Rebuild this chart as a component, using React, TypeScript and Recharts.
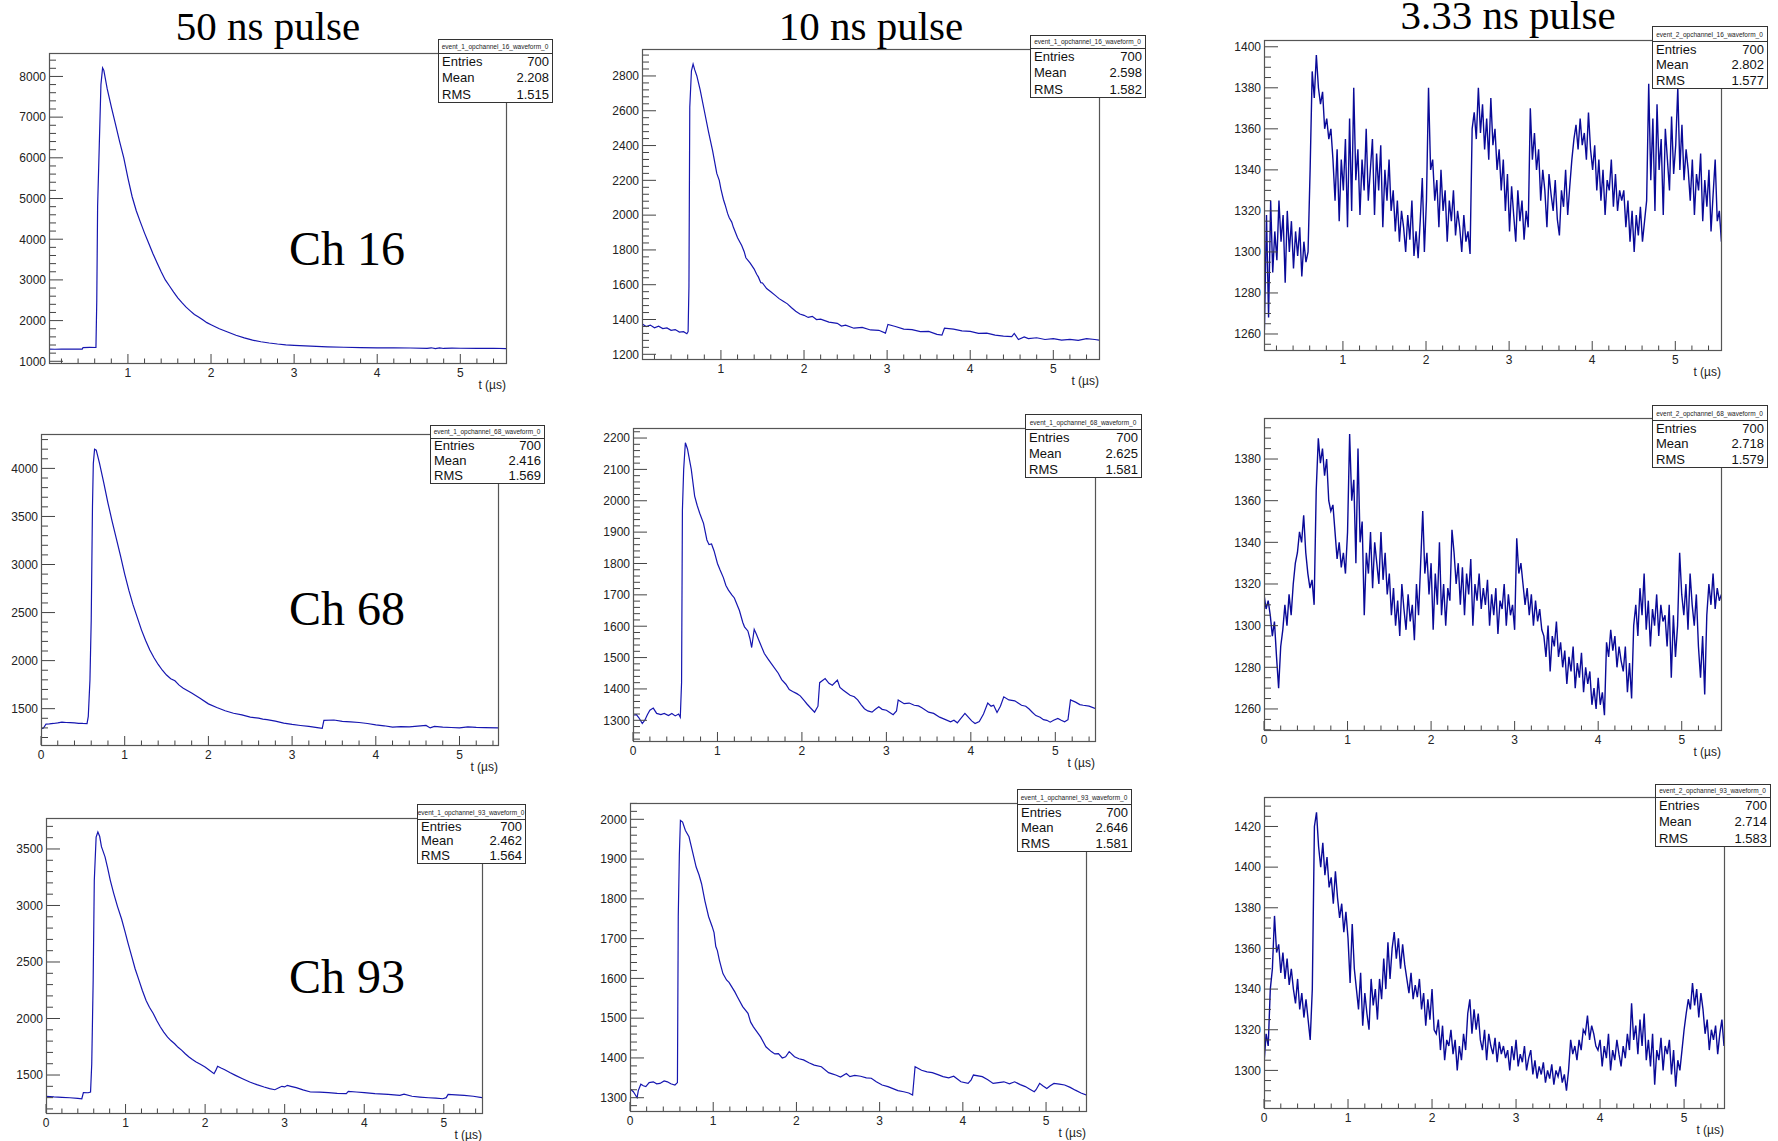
import React from 'react';
import { LineChart, Line, XAxis, YAxis } from 'recharts';

const BLUE = '#1616b0';
const NAVY = '#0a0a98';
const AXIS = '#444';
const SANS = '"Liberation Sans", Arial, Helvetica, sans-serif';
const SERIF = '"Liberation Serif", "Times New Roman", serif';

// width of one histogram bin used for the dense 3.33 ns traces (us)
const FAST_BIN = 0.025;

const columnTitles = ['50 ns pulse', '10 ns pulse', '3.33 ns pulse'];
const channelLabels = ['Ch 16', 'Ch 68', 'Ch 93'];

const ch16Slow = [
  [0.05, 1300], [0.12, 1296], [0.2, 1302], [0.28, 1297], [0.36, 1301], [0.45, 1299], [0.46, 1338], [0.54, 1341],
  [0.615, 1339], [0.625, 2500], [0.635, 4800], [0.655, 6300], [0.675, 7800], [0.695, 8210], [0.71, 8150], [0.75, 7700],
  [0.8, 7250], [0.85, 6830], [0.9, 6400], [0.95, 6000], [1.0, 5500], [1.05, 5050], [1.1, 4700], [1.15, 4420],
  [1.2, 4150], [1.25, 3900], [1.3, 3650], [1.35, 3420], [1.4, 3200], [1.45, 3000], [1.5, 2850], [1.55, 2700],
  [1.6, 2560], [1.65, 2440], [1.7, 2330], [1.75, 2240], [1.8, 2150], [1.85, 2090], [1.9, 2020], [1.95, 1950],
  [2.0, 1900], [2.1, 1800], [2.2, 1720], [2.3, 1640], [2.4, 1575], [2.5, 1520], [2.6, 1480], [2.7, 1450],
  [2.8, 1425], [2.9, 1405], [3.0, 1392], [3.2, 1372], [3.4, 1356], [3.6, 1345], [3.8, 1338], [4.0, 1332],
  [4.2, 1330], [4.4, 1326], [4.6, 1318], [4.65, 1332], [4.7, 1312], [4.75, 1330], [4.8, 1315], [4.9, 1325],
  [5.0, 1320], [5.2, 1316], [5.4, 1320], [5.55, 1312],
];

const ch16Mid = [
  [0.05, 1375], [0.1, 1360], [0.15, 1368], [0.2, 1352], [0.25, 1362], [0.3, 1348], [0.35, 1352], [0.4, 1338],
  [0.45, 1342], [0.5, 1328], [0.55, 1330], [0.59, 1318], [0.605, 1330], [0.615, 1590], [0.625, 2620], [0.645, 2830],
  [0.665, 2868], [0.685, 2835], [0.71, 2800], [0.75, 2720], [0.8, 2600], [0.85, 2480], [0.9, 2370], [0.95, 2240],
  [0.98, 2200], [1.0, 2150], [1.03, 2090], [1.05, 2060], [1.08, 2010], [1.1, 1985], [1.13, 1960], [1.15, 1930],
  [1.2, 1870], [1.25, 1825], [1.28, 1790], [1.3, 1755], [1.35, 1725], [1.4, 1690], [1.43, 1660], [1.45, 1645],
  [1.48, 1612], [1.5, 1610], [1.55, 1578], [1.6, 1560], [1.65, 1540], [1.7, 1520], [1.75, 1505], [1.8, 1490],
  [1.85, 1468], [1.9, 1448], [1.95, 1432], [2.0, 1424], [2.05, 1412], [2.1, 1418], [2.15, 1400], [2.2, 1402],
  [2.3, 1385], [2.4, 1378], [2.45, 1362], [2.5, 1368], [2.6, 1350], [2.7, 1355], [2.8, 1340], [2.9, 1338],
  [2.98, 1322], [3.01, 1372], [3.1, 1360], [3.2, 1345], [3.3, 1342], [3.4, 1330], [3.5, 1332], [3.6, 1315],
  [3.66, 1310], [3.69, 1350], [3.8, 1345], [3.9, 1335], [4.0, 1332], [4.1, 1320], [4.2, 1322], [4.3, 1310],
  [4.4, 1305], [4.5, 1302], [4.53, 1320], [4.58, 1285], [4.65, 1300], [4.7, 1290], [4.8, 1295], [4.9, 1285],
  [5.0, 1290], [5.1, 1282], [5.2, 1286], [5.3, 1280], [5.4, 1290], [5.5, 1285], [5.55, 1282],
];

const ch68Slow = [
  [0, 1290], [0.03, 1298], [0.06, 1340], [0.1, 1342], [0.15, 1346], [0.2, 1352], [0.25, 1360], [0.3, 1356],
  [0.35, 1354], [0.4, 1352], [0.45, 1348], [0.5, 1346], [0.55, 1345], [0.565, 1420], [0.585, 1800], [0.6, 2420],
  [0.615, 3600], [0.625, 4050], [0.64, 4200], [0.66, 4190], [0.7, 4050], [0.75, 3850], [0.8, 3640], [0.85, 3450],
  [0.9, 3270], [0.95, 3090], [1.0, 2900], [1.05, 2730], [1.1, 2580], [1.15, 2450], [1.2, 2320], [1.25, 2210],
  [1.3, 2110], [1.35, 2030], [1.4, 1960], [1.45, 1900], [1.5, 1850], [1.55, 1812], [1.6, 1790], [1.65, 1745],
  [1.7, 1712], [1.8, 1662], [1.9, 1608], [2.0, 1550], [2.1, 1512], [2.2, 1478], [2.3, 1452], [2.4, 1436],
  [2.5, 1412], [2.6, 1402], [2.65, 1392], [2.7, 1386], [2.8, 1370], [2.9, 1350], [3.0, 1336], [3.1, 1325],
  [3.2, 1315], [3.3, 1302], [3.36, 1295], [3.38, 1378], [3.5, 1382], [3.6, 1368], [3.7, 1362], [3.8, 1356],
  [3.9, 1346], [4.0, 1332], [4.1, 1322], [4.2, 1308], [4.3, 1314], [4.4, 1310], [4.5, 1318], [4.6, 1326],
  [4.65, 1300], [4.7, 1315], [4.8, 1308], [4.9, 1304], [5.0, 1300], [5.1, 1310], [5.2, 1305], [5.3, 1302],
  [5.46, 1300],
];

const ch68Mid = [
  [0, 1316], [0.04, 1318], [0.07, 1308], [0.11, 1290], [0.14, 1300], [0.17, 1318], [0.2, 1332], [0.24, 1339],
  [0.28, 1322], [0.33, 1318], [0.37, 1322], [0.42, 1315], [0.46, 1322], [0.5, 1314], [0.54, 1320], [0.56, 1310],
  [0.575, 1420], [0.585, 1970], [0.6, 2100], [0.62, 2185], [0.645, 2165], [0.69, 2100], [0.73, 2015], [0.76, 1985],
  [0.79, 1960], [0.835, 1928], [0.875, 1875], [0.9, 1860], [0.93, 1862], [0.96, 1840], [1.0, 1800], [1.03, 1780],
  [1.07, 1755], [1.1, 1730], [1.13, 1715], [1.17, 1700], [1.2, 1690], [1.26, 1650], [1.3, 1612], [1.32, 1598],
  [1.36, 1585], [1.385, 1560], [1.405, 1532], [1.435, 1590], [1.46, 1575], [1.49, 1555], [1.555, 1513], [1.6, 1495],
  [1.64, 1480], [1.72, 1450], [1.76, 1430], [1.81, 1415], [1.85, 1398], [1.89, 1392], [1.94, 1385], [1.98, 1378],
  [2.03, 1362], [2.06, 1352], [2.1, 1340], [2.15, 1326], [2.19, 1345], [2.21, 1420], [2.275, 1433], [2.32, 1418],
  [2.36, 1412], [2.42, 1428], [2.45, 1405], [2.49, 1396], [2.53, 1388], [2.57, 1380], [2.62, 1375], [2.66, 1365],
  [2.7, 1350], [2.74, 1337], [2.78, 1330], [2.83, 1326], [2.87, 1335], [2.91, 1343], [2.95, 1335], [3.0, 1332],
  [3.04, 1325], [3.08, 1318], [3.12, 1330], [3.14, 1365], [3.21, 1353], [3.27, 1355], [3.33, 1348], [3.38, 1346],
  [3.42, 1340], [3.5, 1326], [3.56, 1322], [3.63, 1310], [3.7, 1302], [3.76, 1295], [3.8, 1300], [3.84, 1292],
  [3.88, 1305], [3.93, 1322], [3.97, 1310], [4.01, 1298], [4.05, 1290], [4.1, 1296], [4.15, 1320], [4.2, 1355],
  [4.24, 1345], [4.27, 1348], [4.31, 1325], [4.35, 1345], [4.39, 1375], [4.45, 1365], [4.52, 1362], [4.56, 1355],
  [4.6, 1348], [4.65, 1345], [4.69, 1336], [4.73, 1325], [4.77, 1315], [4.82, 1310], [4.86, 1302], [4.9, 1300],
  [4.94, 1294], [4.98, 1300], [5.03, 1306], [5.07, 1300], [5.11, 1295], [5.15, 1302], [5.18, 1365], [5.24, 1358],
  [5.29, 1350], [5.33, 1348], [5.4, 1345], [5.47, 1338],
];

const ch93Slow = [
  [0, 1311], [0.1, 1306], [0.2, 1303], [0.3, 1299], [0.4, 1293], [0.45, 1290], [0.47, 1345], [0.53, 1343],
  [0.56, 1350], [0.575, 1600], [0.593, 2340], [0.607, 3220], [0.63, 3605], [0.652, 3650], [0.675, 3610], [0.697, 3520],
  [0.742, 3430], [0.775, 3330], [0.809, 3220], [0.85, 3110], [0.899, 2990], [0.95, 2880], [0.989, 2780], [1.03, 2670],
  [1.079, 2545], [1.12, 2440], [1.168, 2340], [1.21, 2250], [1.258, 2160], [1.3, 2100], [1.348, 2045], [1.39, 1985],
  [1.438, 1925], [1.48, 1880], [1.528, 1836], [1.57, 1805], [1.617, 1777], [1.66, 1745], [1.707, 1718], [1.75, 1688],
  [1.797, 1659], [1.84, 1637], [1.887, 1615], [1.94, 1595], [1.999, 1571], [2.05, 1545], [2.112, 1512], [2.134, 1541],
  [2.157, 1577], [2.2, 1562], [2.247, 1547], [2.31, 1522], [2.381, 1497], [2.47, 1467], [2.561, 1438], [2.65, 1415],
  [2.741, 1394], [2.81, 1380], [2.876, 1370], [2.92, 1385], [2.965, 1400], [3.0, 1395], [3.033, 1409], [3.09, 1398],
  [3.145, 1388], [3.23, 1368], [3.325, 1350], [3.44, 1348], [3.549, 1344], [3.66, 1338], [3.774, 1335], [3.8, 1355],
  [3.9, 1350], [4.0, 1345], [4.133, 1335], [4.3, 1328], [4.448, 1320], [4.5, 1330], [4.6, 1312], [4.7, 1305],
  [4.807, 1299], [4.9, 1295], [4.987, 1290], [5.03, 1300], [5.054, 1329], [5.15, 1325], [5.256, 1320], [5.37, 1312],
  [5.48, 1300],
];

const ch93Mid = [
  [0, 1323], [0.04, 1315], [0.085, 1300], [0.1, 1318], [0.13, 1334], [0.16, 1330], [0.19, 1328], [0.23, 1338],
  [0.28, 1340], [0.32, 1335], [0.36, 1336], [0.41, 1342], [0.45, 1340], [0.49, 1335], [0.54, 1332], [0.57, 1338],
  [0.58, 1755], [0.593, 1910], [0.606, 1997], [0.632, 1993], [0.666, 1972], [0.709, 1956], [0.752, 1918], [0.795, 1880],
  [0.83, 1860], [0.86, 1838], [0.9, 1795], [0.945, 1755], [0.988, 1730], [1.01, 1715], [1.031, 1680], [1.05, 1670],
  [1.074, 1646], [1.1, 1625], [1.117, 1612], [1.16, 1596], [1.19, 1590], [1.225, 1578], [1.26, 1566], [1.29, 1554],
  [1.354, 1529], [1.418, 1512], [1.45, 1490], [1.483, 1478], [1.569, 1453], [1.633, 1428], [1.698, 1416], [1.74, 1410],
  [1.784, 1411], [1.83, 1400], [1.87, 1403], [1.913, 1416], [1.977, 1403], [2.03, 1398], [2.085, 1395], [2.15, 1388],
  [2.214, 1382], [2.3, 1378], [2.386, 1363], [2.43, 1360], [2.472, 1357], [2.53, 1352], [2.6, 1361], [2.643, 1353],
  [2.7, 1356], [2.772, 1354], [2.84, 1350], [2.9, 1349], [2.96, 1340], [3.03, 1332], [3.1, 1328], [3.16, 1323],
  [3.22, 1318], [3.29, 1315], [3.35, 1312], [3.396, 1307], [3.426, 1378], [3.504, 1369], [3.57, 1365], [3.633, 1363],
  [3.7, 1358], [3.762, 1353], [3.83, 1350], [3.89, 1354], [3.977, 1340], [4.063, 1336], [4.1, 1345], [4.127, 1357],
  [4.234, 1353], [4.3, 1345], [4.364, 1336], [4.43, 1338], [4.493, 1340], [4.56, 1335], [4.622, 1340], [4.69, 1333],
  [4.751, 1328], [4.8, 1322], [4.858, 1315], [4.88, 1320], [4.923, 1336], [4.96, 1330], [5.009, 1323], [5.05, 1330],
  [5.095, 1336], [5.16, 1334], [5.223, 1332], [5.29, 1326], [5.352, 1319], [5.42, 1312], [5.481, 1307],
];

// 3.33 ns traces, one value per FAST_BIN
const ch16Fast = [
  1262, 1318, 1268, 1325, 1290,
  1310, 1296, 1325, 1305, 1318, 1285, 1320, 1300, 1315, 1292, 1310, 1298, 1312, 1288, 1305, 1295, 1300,
  1340, 1388, 1375, 1396, 1380, 1372, 1378, 1360, 1365, 1355, 1360, 1345,
  1325, 1350, 1315, 1345, 1330, 1355, 1312, 1365, 1320, 1380, 1335, 1350, 1318, 1345, 1330, 1360, 1325,
  1340, 1355, 1318, 1348, 1330, 1352, 1312, 1340, 1325, 1345, 1320,
  1330, 1310, 1325, 1305, 1320, 1312, 1300, 1318, 1306, 1325, 1298, 1310, 1297,
  1315, 1336, 1300, 1325, 1380, 1340,
  1345, 1325, 1335, 1312, 1340, 1320, 1330, 1305, 1325, 1315, 1330, 1308, 1320, 1312, 1300, 1318, 1305, 1310, 1299,
  1360, 1368, 1355, 1380, 1358, 1372, 1350, 1365, 1345, 1375, 1352, 1360, 1340,
  1350, 1330, 1345, 1320, 1338, 1310, 1332, 1318, 1305, 1330, 1315, 1325, 1306, 1320, 1312,
  1370, 1345, 1358, 1340, 1350,
  1325, 1340, 1330, 1312, 1338, 1328, 1320, 1335, 1316, 1308, 1330, 1322, 1340, 1318, 1332, 1345,
  1355, 1362, 1350, 1365, 1352, 1358, 1345, 1368, 1350, 1340,
  1352, 1330, 1345, 1325, 1340, 1318, 1335, 1330, 1345, 1322, 1338, 1320, 1330, 1325,
  1330, 1312, 1325, 1305, 1320, 1300, 1318, 1308, 1322, 1305, 1315, 1325,
  1382, 1335, 1365, 1320, 1372, 1340, 1355, 1318, 1360, 1345, 1330, 1366, 1338, 1352, 1380, 1340, 1362, 1335, 1350,
  1340, 1325, 1345, 1318, 1338, 1330, 1348, 1315, 1335, 1322, 1340, 1310, 1328, 1345, 1315, 1320, 1305,
];

const ch68Fast = [
  1315, 1308, 1312, 1305,
  1295, 1302, 1285, 1270, 1290,
  1298, 1310, 1300, 1315, 1305, 1320,
  1330, 1335, 1345, 1340, 1353, 1335,
  1325, 1318, 1322, 1310,
  1365,
  1390, 1378, 1385, 1372, 1380,
  1360, 1355, 1358,
  1345, 1332, 1340, 1328,
  1335, 1325, 1345,
  1392, 1360,
  1370, 1330, 1385, 1340, 1350,
  1305, 1335, 1325, 1345, 1318, 1340, 1330, 1320, 1345, 1322, 1335, 1315,
  1325, 1305, 1318, 1300, 1312, 1295, 1320, 1308, 1298, 1315, 1302, 1310, 1293, 1320, 1305,
  1330, 1355, 1325, 1335,
  1315, 1330, 1298, 1325, 1310, 1340, 1305, 1320, 1300, 1318, 1312,
  1346,
  1335, 1320, 1330, 1310, 1328, 1305, 1325, 1315, 1332, 1300, 1320, 1312, 1325, 1308, 1318,
  1310, 1322, 1300, 1315, 1305, 1318, 1296, 1312, 1308, 1320, 1300, 1315, 1305, 1310, 1298,
  1342, 1325, 1330,
  1320, 1310, 1318, 1305, 1315, 1300, 1312, 1302, 1308, 1298,
  1295, 1285, 1300, 1278, 1295, 1290, 1302, 1285, 1292,
  1280, 1288, 1272, 1285, 1278, 1290, 1270, 1282, 1275, 1287, 1268, 1280, 1272, 1278, 1262, 1270,
  1260, 1275, 1262, 1268, 1257,
  1292, 1285, 1298, 1288, 1295, 1280, 1290, 1283, 1278, 1290, 1268, 1282, 1265,
  1300, 1310, 1295, 1318, 1305, 1325, 1298, 1312, 1290, 1308, 1300, 1315, 1295, 1310, 1302, 1305,
  1290, 1310, 1275, 1305, 1285, 1300, 1335, 1315,
  1305, 1320, 1298, 1325, 1310, 1300, 1315,
  1290, 1275, 1295, 1267,
  1305, 1320, 1310, 1325, 1308, 1318, 1312, 1315,
];

const ch93Fast = [
  1303, 1318, 1312,
  1340, 1350,
  1376, 1358,
  1362, 1348, 1358, 1345, 1355, 1342, 1350,
  1340, 1333, 1345, 1330, 1338, 1326, 1335,
  1325, 1315,
  1340, 1420, 1427,
  1410, 1400, 1412, 1396, 1405,
  1390, 1395, 1382, 1398, 1385,
  1375, 1382, 1368, 1378, 1365,
  1343, 1372, 1350,
  1340, 1330, 1348, 1322, 1338, 1328, 1320, 1345, 1332, 1340, 1325,
  1345, 1335, 1355, 1340, 1363, 1345,
  1360, 1368, 1355, 1365, 1350, 1362, 1352,
  1345, 1338, 1348, 1335, 1342, 1336, 1345,
  1330, 1338, 1322, 1335, 1325, 1340, 1320,
  1318, 1325, 1310, 1322, 1305, 1315, 1312,
  1320, 1308, 1315, 1300, 1312, 1305, 1318, 1310,
  1328, 1335, 1318, 1330, 1320, 1328, 1315,
  1310, 1320, 1305, 1318, 1312, 1308, 1316, 1304, 1314, 1308, 1312, 1306,
  1310, 1300, 1312, 1305, 1315, 1302, 1308, 1304, 1312, 1300, 1306, 1310, 1298,
  1305, 1296, 1302, 1298, 1304, 1294, 1300, 1296, 1303, 1293, 1300, 1297, 1302, 1294, 1298, 1290, 1300,
  1315, 1308, 1312, 1305, 1315, 1310,
  1320, 1318, 1327, 1315, 1322, 1318, 1312,
  1310, 1315, 1302, 1312, 1306, 1318, 1300, 1310, 1305, 1315, 1308, 1302, 1312, 1306,
  1318, 1310, 1333, 1315, 1322, 1308, 1325, 1312, 1328, 1305,
  1315, 1302, 1318, 1293, 1310, 1305, 1316, 1300, 1312, 1308, 1315, 1298, 1310, 1292, 1305, 1300, 1310,
  1320, 1328, 1335,
  1330, 1343, 1332, 1340, 1326, 1338, 1330,
  1318, 1325, 1310, 1320, 1315, 1322, 1308, 1318, 1325, 1312,
];

const statNames = [
  'event_1_opchannel_16_waveform_0', 'event_1_opchannel_16_waveform_0', 'event_2_opchannel_16_waveform_0',
  'event_1_opchannel_68_waveform_0', 'event_1_opchannel_68_waveform_0', 'event_2_opchannel_68_waveform_0',
  'event_1_opchannel_93_waveform_0', 'event_1_opchannel_93_waveform_0', 'event_2_opchannel_93_waveform_0',
];
const statEntries = ['700', '700', '700', '700', '700', '700', '700', '700', '700'];
const statMeans = ['2.208', '2.598', '2.802', '2.416', '2.625', '2.718', '2.462', '2.646', '2.714'];
const statRms = ['1.515', '1.582', '1.577', '1.569', '1.581', '1.579', '1.564', '1.581', '1.583'];

type Pt = { t: number; v: number };

const fromPairs = (pts: number[][]): Pt[] => pts.map(([t, v]) => ({ t, v }));
const fromBins = (start: number, vals: number[]): Pt[] =>
  vals.map((v, i) => ({ t: +(start + i * FAST_BIN).toFixed(4), v }));

const range = (from: number, to: number, step: number) => {
  const out: number[] = [];
  for (let k = 0; from + k * step <= to + 1e-9; k++) out.push(+(from + k * step).toFixed(4));
  return out;
};

interface PanelDef {
  frame: [number, number, number, number]; // left, top, right, bottom
  x: [number, number];
  y: [number, number];
  yMajor: number;
  yMinor: number;
  yFrom: number;
  yTo: number;
  xFrom: number;
  data: Pt[];
  dense: boolean;
  stats: [number, number, number, number, number]; // left, top, right, bottom, title row bottom
}

const panels: PanelDef[] = [
  { frame: [49, 53, 506, 363], x: [0.05, 5.55], y: [958, 8576], yMajor: 1000, yMinor: 200, yFrom: 1000, yTo: 8400, xFrom: 0.2,
    data: fromPairs(ch16Slow), dense: false, stats: [438, 39, 552, 102, 53] },
  { frame: [642, 49, 1099, 359], x: [0.05, 5.55], y: [1173, 2955], yMajor: 200, yMinor: 40, yFrom: 1200, yTo: 2920, xFrom: 0.2,
    data: fromPairs(ch16Mid), dense: false, stats: [1030, 35, 1145, 97, 48] },
  { frame: [1264, 40, 1721, 350], x: [0.05, 5.55], y: [1252.2, 1403.3], yMajor: 20, yMinor: 5, yFrom: 1255, yTo: 1400, xFrom: 0.2,
    data: fromBins(0.055, ch16Fast), dense: true, stats: [1652, 26, 1767, 88, 41] },
  { frame: [41, 434, 498, 745], x: [0, 5.46], y: [1122, 4358], yMajor: 500, yMinor: 100, yFrom: 1200, yTo: 4300, xFrom: 0,
    data: fromPairs(ch68Slow), dense: false, stats: [430, 425, 544, 483, 438] },
  { frame: [633, 428, 1095, 741], x: [0, 5.47], y: [1234, 2232], yMajor: 100, yMinor: 20, yFrom: 1240, yTo: 2220, xFrom: 0,
    data: fromPairs(ch68Mid), dense: false, stats: [1025, 414, 1141, 477, 429] },
  { frame: [1264, 418, 1721, 730], x: [0, 5.47], y: [1249.9, 1399.7], yMajor: 20, yMinor: 5, yFrom: 1250, yTo: 1395, xFrom: 0,
    data: fromBins(0, ch68Fast), dense: true, stats: [1652, 405, 1767, 467, 420] },
  { frame: [46, 818, 482, 1113], x: [0, 5.48], y: [1164, 3774], yMajor: 500, yMinor: 100, yFrom: 1200, yTo: 3700, xFrom: 0,
    data: fromPairs(ch93Slow), dense: false, stats: [417, 804, 525, 863, 819] },
  { frame: [630, 803, 1086, 1111], x: [0, 5.48], y: [1266.6, 2041], yMajor: 100, yMinor: 20, yFrom: 1280, yTo: 2040, xFrom: 0,
    data: fromPairs(ch93Mid), dense: false, stats: [1017, 789, 1131, 851, 804] },
  { frame: [1264, 797, 1724, 1108], x: [0, 5.475], y: [1281.5, 1434.5], yMajor: 20, yMinor: 5, yFrom: 1285, yTo: 1430, xFrom: 0,
    data: fromBins(0, ch93Fast), dense: true, stats: [1655, 784, 1770, 846, 797] },
];

const titlePos = [[268, 40], [871, 40], [1508, 29]];
const chanPos = [[289, 265], [289, 625], [289, 993]];

const YW = 45;
const XH = 32;
const MT = 4;
const MR = 4;

const Panel: React.FC<{ p: PanelDef }> = ({ p }) => {
  const [L, T, R, B] = p.frame;
  const w = R - L;
  const h = B - T;
  const yTicks = range(p.yFrom, p.yTo, p.yMinor);
  const xTicks = range(p.xFrom, p.x[1], 0.2);

  const renderY = (props: any) => {
    const { x, y, payload } = props;
    const v = payload.value;
    const major = Math.abs(v / p.yMajor - Math.round(v / p.yMajor)) < 1e-6;
    return (
      <g>
        <line x1={x} x2={x + (major ? 14 : 7)} y1={y} y2={y} stroke={AXIS} strokeWidth={1} />
        {major && (
          <text x={x - 3} y={y + 4.3} textAnchor="end" fontSize={12} fill="#222" fontFamily={SANS}>
            {v}
          </text>
        )}
      </g>
    );
  };

  const renderX = (props: any) => {
    const { x, y, payload } = props;
    const v = payload.value;
    const major = Math.abs(v - Math.round(v)) < 1e-6;
    return (
      <g>
        <line x1={x} x2={x} y1={y} y2={y - (major ? 9 : 4.5)} stroke={AXIS} strokeWidth={1} />
        {major && (
          <text x={x} y={y + 14} textAnchor="middle" fontSize={12} fill="#222" fontFamily={SANS}>
            {Math.round(v)}
          </text>
        )}
      </g>
    );
  };

  return (
    <div style={{ position: 'absolute', left: L - YW, top: T - MT }}>
      <LineChart
        width={YW + w + MR}
        height={MT + h + XH}
        data={p.data}
        margin={{ top: MT, right: MR, bottom: 0, left: 0 }}
      >
        <XAxis
          dataKey="t"
          type="number"
          domain={p.x}
          allowDataOverflow
          ticks={xTicks}
          interval={0}
          tickSize={0}
          tickMargin={0}
          tickLine={false}
          axisLine={false}
          height={XH}
          tick={renderX}
        />
        <YAxis
          type="number"
          domain={p.y}
          allowDataOverflow
          ticks={yTicks}
          interval={0}
          tickSize={0}
          tickMargin={0}
          tickLine={false}
          axisLine={false}
          width={YW}
          tick={renderY}
        />
        <Line
          type="linear"
          dataKey="v"
          stroke={p.dense ? NAVY : BLUE}
          strokeWidth={p.dense ? 1.4 : 1.2}
          dot={false}
          activeDot={false}
          isAnimationActive={false}
        />
      </LineChart>
    </div>
  );
};

const App: React.FC = () => {
  return (
    <div style={{ position: 'absolute', left: 0, top: 0, width: 1778, height: 1141, background: '#fff', overflow: 'hidden' }}>
      {panels.map((p, i) => (
        <Panel key={i} p={p} />
      ))}
      <svg
        width={1778}
        height={1141}
        style={{ position: 'absolute', left: 0, top: 0, pointerEvents: 'none' }}
      >
        {panels.map((p, i) => {
          const [L, T, R, B] = p.frame;
          return (
            <g key={`f${i}`}>
              <rect x={L + 0.5} y={T + 0.5} width={R - L} height={B - T} fill="none" stroke="#555" strokeWidth={1.2} />
              <text x={R} y={B + 26} textAnchor="end" fontSize={12} fill="#222" fontFamily={SANS}>
                t (µs)
              </text>
            </g>
          );
        })}
        {columnTitles.map((t, i) => (
          <text key={t} x={titlePos[i][0]} y={titlePos[i][1]} textAnchor="middle" fontSize={41} fill="#000" fontFamily={SERIF}>
            {t}
          </text>
        ))}
        {channelLabels.map((c, i) => (
          <text key={c} x={chanPos[i][0]} y={chanPos[i][1]} fontSize={48} fill="#000" fontFamily={SERIF}>
            {c}
          </text>
        ))}
        {panels.map((p, i) => {
          const [sl, st, sr, sb, stb] = p.stats;
          const rowH = (sb - stb) / 3;
          const rows = [
            ['Entries', statEntries[i]],
            ['Mean', statMeans[i]],
            ['RMS', statRms[i]],
          ];
          return (
            <g key={`s${i}`}>
              <rect x={sl + 0.5} y={st + 0.5} width={sr - sl} height={sb - st} fill="#fff" stroke="#333" strokeWidth={1} />
              <line x1={sl} x2={sr + 1} y1={stb + 0.5} y2={stb + 0.5} stroke="#333" strokeWidth={1} />
              <text x={(sl + sr) / 2} y={stb - 4} textAnchor="middle" fontSize={6.5} fill="#222" fontFamily={SANS}>
                {statNames[i]}
              </text>
              {rows.map(([k, v], r) => (
                <g key={k}>
                  <text x={sl + 4} y={stb + rowH * (r + 0.8)} fontSize={13} fill="#111" fontFamily={SANS}>
                    {k}
                  </text>
                  <text x={sr - 3} y={stb + rowH * (r + 0.8)} textAnchor="end" fontSize={13} fill="#111" fontFamily={SANS}>
                    {v}
                  </text>
                </g>
              ))}
            </g>
          );
        })}
      </svg>
    </div>
  );
};

export default App;
